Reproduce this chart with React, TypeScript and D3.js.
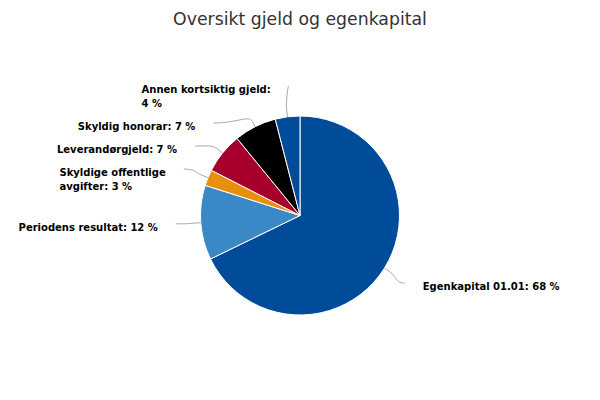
import { useMemo } from "react";
import { arc as d3Arc, pie as d3Pie, sum, max, type PieArcDatum } from "d3";

const chartTitle = "Oversikt gjeld og egenkapital";
const categories = [
  "Egenkapital 01.01",
  "Periodens resultat",
  "Skyldige offentlige avgifter",
  "Leverandørgjeld",
  "Skyldig honorar",
  "Annen kortsiktig gjeld",
];
const shares = [67.8, 12.1, 2.6, 6.6, 6.9, 4.0];
const palette = ["#004c9a", "#3a88c6", "#e8900b", "#a8002c", "#000000"];

const width = 600;
const height = 400;
const cx = 300;
const cy = 215.5;
const radius = 99.5;
const labelDistance = 30;
const labelFont = "bold 10px 'DejaVu Sans'";
const lineHeight = 14;
const maxLabelWidth = 150;

interface Slice {
  name: string;
  value: number;
}

interface LabelLayout {
  lines: string[];
  blockWidth: number;
  left: boolean;
  mid: number;
  natural: number;
  size: number;
  y: number;
  x: number;
}

let ctx: CanvasRenderingContext2D | null = null;
const measure = (text: string) => {
  if (!ctx) {
    ctx = document.createElement("canvas").getContext("2d");
  }
  if (!ctx) return text.length * 6;
  ctx.font = labelFont;
  return ctx.measureText(text).width;
};

// greedy word wrap, keeps the non-breaking space before "%"
const wrap = (text: string) => {
  const words = text.split(" ");
  const lines: string[] = [];
  let current = "";
  words.forEach((w) => {
    const next = current ? `${current} ${w}` : w;
    if (current && measure(next) > maxLabelWidth) {
      lines.push(current);
      current = w;
    } else {
      current = next;
    }
  });
  if (current) lines.push(current);
  return lines;
};

export default function App() {
  const computed = useMemo(() => {
    const data: Slice[] = categories.map((name, i) => ({
      name,
      value: shares[i],
    }));
    const total = sum(data, (d) => d.value);

    const arcs = d3Pie<Slice>()
      .sort(null)
      .value((d) => d.value)
      .startAngle(0)
      .endAngle(2 * Math.PI)(data);

    const arcGen = d3Arc<PieArcDatum<Slice>>()
      .innerRadius(0)
      .outerRadius(radius);

    const R = radius + labelDistance;
    const labels: LabelLayout[] = arcs.map((a) => {
      const mid = (a.startAngle + a.endAngle) / 2;
      const pct = Math.round((a.data.value / total) * 100);
      const lines = wrap(`${a.data.name}: ${pct}\u00a0%`);
      const natural = cy - R * Math.cos(mid);
      return {
        lines,
        blockWidth: max(lines, (s) => measure(s)) ?? 0,
        left: mid > Math.PI,
        mid,
        natural,
        size: lines.length * lineHeight + 9,
        y: natural,
        x: 0,
      };
    });

    // push overlapping labels down, one side at a time
    [true, false].forEach((side) => {
      const group = labels
        .filter((l) => l.left === side)
        .sort((a, b) => a.natural - b.natural);
      let prevEnd = -Infinity;
      group.forEach((l) => {
        l.y = Math.max(l.natural, prevEnd);
        prevEnd = l.y + l.size;
      });
    });

    labels.forEach((l) => {
      const dy = l.y - cy;
      const dx = Math.sqrt(Math.max(0, R * R - dy * dy));
      l.x = cx + (l.left ? -dx : dx);
    });

    const connectors = labels.map((l) => {
      const dir = l.left ? -1 : 1;
      const ay = l.y - 1;
      const ax = l.x - dir * 5;
      const bx = cx + (radius + 6) * Math.sin(l.mid);
      const by = cy - (radius + 6) * Math.cos(l.mid);
      const tx = cx + radius * Math.sin(l.mid);
      const ty = cy - radius * Math.cos(l.mid);
      const c1x = ax + (bx - ax) * 0.6;
      const c2x = bx + (bx - tx) * 1.2;
      const c2y = by + (by - ty) * 1.2;
      return `M${ax},${ay}C${c1x},${ay} ${c2x},${c2y} ${bx},${by}L${tx},${ty}`;
    });

    return { arcs, arcGen, labels, connectors };
  }, []);

  const { arcs, arcGen, labels, connectors } = computed;

  return (
    <>
      <style>{`body{margin:0}`}</style>
      <svg
        width={width}
        height={height}
        viewBox={`0 0 ${width} ${height}`}
        style={{ display: "block", background: "#fff" }}
      >
        <text
          x={width / 2}
          y={25}
          textAnchor="middle"
          fontFamily="'DejaVu Sans', sans-serif"
          fontSize={17.3}
          fill="#333333"
        >
          {chartTitle}
        </text>

        <g transform={`translate(${cx}, ${cy})`}>
          {arcs.map((a, i) => (
            <path
              key={a.data.name}
              d={arcGen(a) ?? ""}
              fill={palette[i % palette.length]}
              stroke="#ffffff"
              strokeWidth={1}
              strokeLinejoin="round"
            />
          ))}
        </g>

        {connectors.map((d, i) => (
          <path
            key={`c-${i}`}
            d={d}
            fill="none"
            stroke="#a8a8a8"
            strokeWidth={1}
          />
        ))}

        {labels.map((l, i) => {
          // block is aligned towards the pie, lines inside it left-aligned
          const tx = l.left ? l.x - 13 - l.blockWidth : l.x + 13;
          return (
            <text
              key={`l-${i}`}
              x={tx}
              y={l.y + 6}
              textAnchor="start"
              fontFamily="'DejaVu Sans', sans-serif"
              fontSize={10}
              fontWeight="bold"
              fill="#000000"
            >
              {l.lines.map((line, j) => (
                <tspan key={j} x={tx} dy={j === 0 ? 0 : lineHeight}>
                  {line}
                </tspan>
              ))}
            </text>
          );
        })}
      </svg>
    </>
  );
}
